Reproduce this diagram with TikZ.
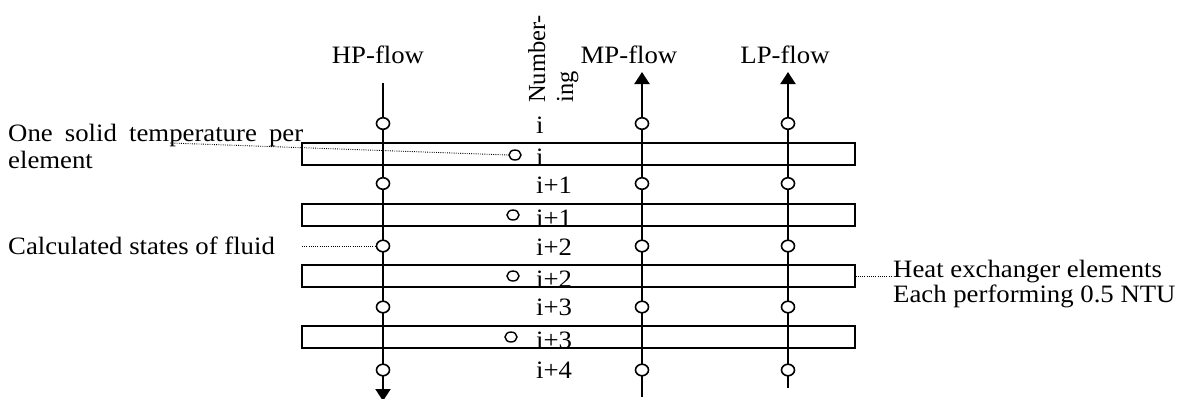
\documentclass[tikz,border=0pt]{standalone}
\usepackage{fontspec}
\setmainfont{Liberation Serif}[FakeStretch=1.07]
\newfontfamily\rotfont{Liberation Serif}
\usetikzlibrary{arrows.meta,shapes.geometric}
\begin{document}
\begin{tikzpicture}[x=1pt,y=-1pt,
  txt/.style={font=\fontsize{25}{27}\selectfont, inner sep=0pt},
  rottxt/.style={font=\rotfont\fontsize{24.5}{26}\selectfont, inner sep=0pt, rotate=90, anchor=base west},
  flow/.style={line width=2pt},
  elem/.style={draw, line width=1.3pt, minimum width=553pt, minimum height=22pt, inner sep=0pt},
  fstate/.style={ellipse, draw, fill=white, line width=1.6pt, minimum width=13pt, minimum height=11.5pt, inner sep=0pt},
  sstate/.style={ellipse, draw, fill=white, line width=1.4pt, minimum width=12pt, minimum height=10pt, inner sep=0pt},
  leader/.style={line width=0.9pt, dash pattern=on 0.9pt off 1.3pt},
  tipend/.style={-{Triangle[width=15pt,length=12pt]}}
]
\useasboundingbox (0,0) rectangle (1184,399);

% heat exchanger elements
\node[elem] (e1) at (578.5,154) {};
\node[elem] (e2) at (578.5,215) {};
\node[elem] (e3) at (578.5,276) {};
\node[elem] (e4) at (578.5,337) {};

% flow lines
\coordinate (hpT) at (383,83);
\coordinate (hpB) at (383,401);
\coordinate (mpB) at (642,397);
\coordinate (mpT) at (642,72);
\coordinate (lpB) at (788,388);
\coordinate (lpT) at (788,72);
\draw[flow,tipend] (hpT) -- (hpB);
\draw[flow,tipend] (mpB) -- (mpT);
\draw[flow,tipend] (lpB) -- (lpT);

% fluid states
\foreach \k/\yy in {1/123.5,2/183.5,3/246,4/307,5/370}{
  \node[fstate] (hp\k) at (383,\yy) {};
  \node[fstate] (mp\k) at (642,\yy) {};
  \node[fstate] (lp\k) at (788,\yy) {};
}

% solid states
\node[sstate] (s1) at (515,155) {};
\node[sstate] (s2) at (513,215) {};
\node[sstate] (s3) at (513,276) {};
\node[sstate] (s4) at (511,337) {};

% numbering labels
\node[txt,anchor=base west] (l1) at (536,133) {i};
\node[txt,anchor=base west] (l2) at (536,165) {i};
\node[txt,anchor=base west] (l3) at (536,193) {i+1};
\node[txt,anchor=base west] (l4) at (536,226) {i+1};
\node[txt,anchor=base west] (l5) at (536,255) {i+2};
\node[txt,anchor=base west] (l6) at (536,287) {i+2};
\node[txt,anchor=base west] (l7) at (536,315) {i+3};
\node[txt,anchor=base west] (l8) at (536,348) {i+3};
\node[txt,anchor=base west] (l9) at (536,378) {i+4};

% headers
\node[txt,anchor=base] (hp) at (378,63) {HP-flow};
\node[txt,anchor=base] (mp) at (629,63) {MP-flow};
\node[txt,anchor=base] (lp) at (785,63) {LP-flow};
\node[rottxt] (num1) at (545,103) {Number-};
\node[rottxt] (num2) at (573,103) {ing};

% annotations
\node[txt,anchor=base west] (solid) at (8,141) {\hbox to 295pt{One\hfill solid\hfill temperature\hfill per}};
\node[txt,anchor=base west] (element) at (8,168) {element};
\coordinate (solidlead) at (170,143);
\draw[leader] (solidlead) -- (s1.west);

\node[txt,anchor=base west] (calc) at (8,254) {Calculated states of fluid};
\coordinate (calclead) at (302,246);
\draw[leader] (calclead) -- (hp3.west);

\node[txt,anchor=base west] (heat) at (893,277) {Heat exchanger elements};
\node[txt,anchor=base west] (each) at (893,302) {Each performing 0.5 NTU};
\coordinate (heatlead) at (892,276);
\draw[leader] (e3.east) -- (heatlead);
\end{tikzpicture}
\end{document}
